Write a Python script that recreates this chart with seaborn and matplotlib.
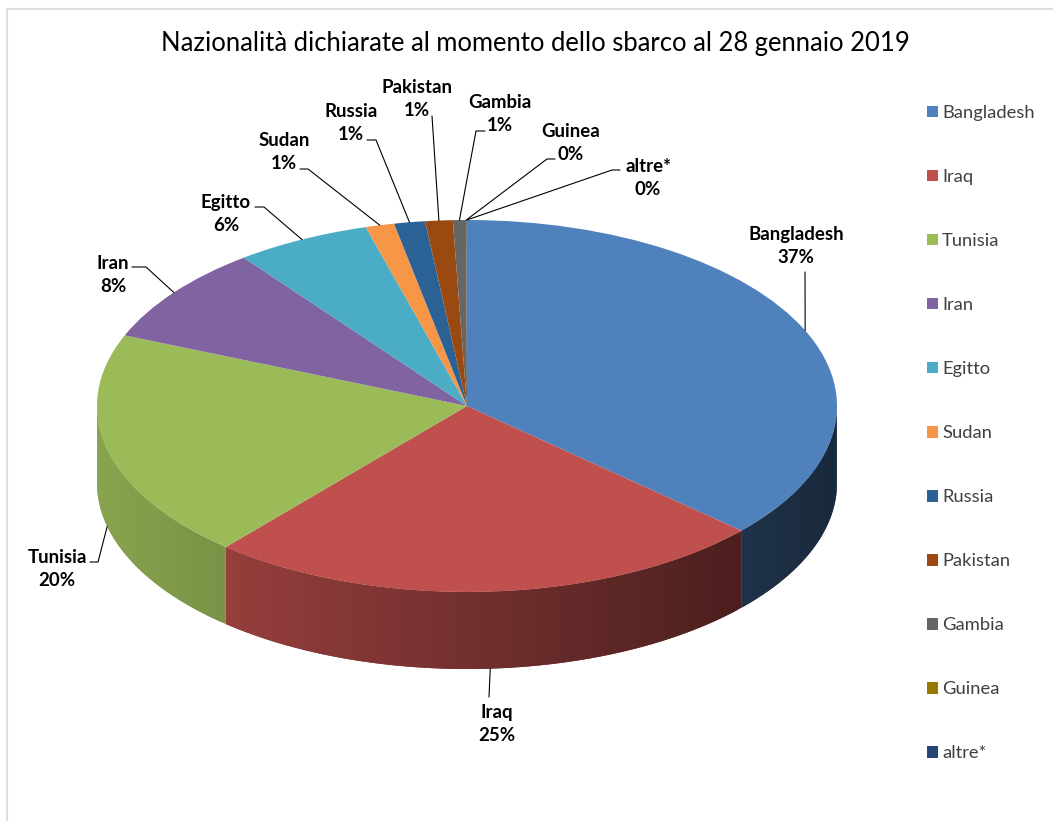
import numpy as np
import matplotlib
matplotlib.use('Agg')
import matplotlib.pyplot as plt
import seaborn as sns
from matplotlib.collections import PolyCollection
from matplotlib.colors import to_rgb

# data
names = ['Bangladesh', 'Iraq', 'Tunisia', 'Iran', 'Egitto', 'Sudan', 'Russia',
         'Pakistan', 'Gambia', 'Guinea', 'altre*']
values = [36.7, 24.6, 19.9, 8.49, 5.9, 1.25, 1.35, 1.2, 0.57, 0.02, 0.02]
pct_labels = ['37%', '25%', '20%', '8%', '6%', '1%', '1%', '1%', '1%', '0%', '0%']
colors = ['#4F81BD', '#C0504D', '#9BBB59', '#8064A2', '#4BACC6', '#F79646',
          '#2A6296', '#9A4A10', '#666666', '#9A7700', '#264478']
title = 'Nazionalità dichiarate al momento dello sbarco al 28 gennaio 2019'

# label centre (px), leader start/elbow (px), leader ends on the bottom of the wall or not
label_pos = [(796, 246), (497, 724), (57, 569), (113, 275), (226, 214), (284, 152),
             (351, 123), (417, 99), (500, 114), (571, 143), (648, 178)]
leader_pts = [[(805, 272)], [(489, 697)], [(90, 562), (98, 562)], [(132, 267), (146, 267)],
              [(255, 207), (264, 207)], [(300, 169), (308, 169)], [(367, 140), (376, 140)],
              [(432, 116)], [(485, 131), (476, 131)], [(555, 159), (547, 159)],
              [(620, 170), (612, 170)]]
on_wall = [False, True, True] + [False] * 8

W, H = 1053, 821
CX, CY, RX, RY, DEPTH = 467, 406, 370, 186, 77

sns.set_theme(style='white')
plt.rcParams['font.family'] = ['Lato', 'DejaVu Sans']
palette = sns.color_palette(colors)


def px(x, y):
    return (x - CX) / RX, (CY - y) / RY


fig = plt.figure(figsize=(W / 100, H / 100), dpi=100, facecolor='white')
ax = fig.add_axes([0, 0, 1, 1])

wedges, _ = ax.pie(values, colors=palette, startangle=90, counterclock=False, radius=1)
for w in wedges:
    w.set_zorder(3)
    w.set_linewidth(0)

ax.set_aspect('auto')
ax.set_xlim(-CX / RX, (W - CX) / RX)
ax.set_ylim((CY - H) / RY, CY / RY)
ax.axis('off')

# front wall, shaded from left to right; each strip runs over the next to hide seams
dep = DEPTH / RY
frac = np.cumsum([0] + values) / sum(values) * 360
polys, faces = [], []
for i in range(len(values)):
    a0, b0 = max(frac[i], 90), min(frac[i + 1], 270)
    if b0 <= a0:
        continue
    steps = np.linspace(a0, b0, int((b0 - a0)) + 2)
    for k in range(len(steps) - 1):
        arc = np.radians(steps[k:k + 3])
        xs, ys = np.sin(arc), np.cos(arc)
        polys.append(list(zip(xs, ys)) + list(zip(xs[::-1], ys[::-1] - dep)))
        shade = 0.78 - (CX + RX * xs[:2].mean() - 226) * 0.00076
        faces.append(tuple(c * shade for c in to_rgb(palette[i])))
ax.add_collection(PolyCollection(polys, facecolors=faces, edgecolors='none', zorder=2))

# leaders and labels
mids = (frac[:-1] + frac[1:]) / 2
for i, name in enumerate(names):
    ax_x, ax_y = np.sin(np.radians(mids[i])), np.cos(np.radians(mids[i]))
    if on_wall[i]:
        ax_y -= dep
    pts = [px(*p) for p in leader_pts[i]] + [(ax_x, ax_y)]
    ax.plot([p[0] for p in pts], [p[1] for p in pts], color='black', lw=0.8, zorder=4,
            solid_joinstyle='miter')
    lx, ly = label_pos[i]
    ax.text(*px(lx, ly), name + '\n' + pct_labels[i], ha='center', va='center', fontsize=13.4,
            fontweight='bold', color='black', linespacing=1.48, zorder=5)

fig.text(535 / W, 1 - 43 / H, title, ha='center', va='center', fontsize=18.45, color='black')

leg = ax.legend(wedges, names, loc='upper left', bbox_to_anchor=(927 / W, 1 - 105 / H),
                bbox_transform=fig.transFigure, frameon=False, fontsize=13.2,
                handlelength=0.6, handleheight=0.6, handletextpad=0.22,
                labelspacing=2.62, borderpad=0, borderaxespad=0, labelcolor='#404040')

# faint frame lines on the left and the top
frame = [px(7, H), px(7, 9), px(W, 9)]
ax.plot([p[0] for p in frame], [p[1] for p in frame], color='#DEDEDE', lw=1.5, zorder=1,
        solid_joinstyle='miter')

fig.savefig('out.png', dpi=100, facecolor='white')
